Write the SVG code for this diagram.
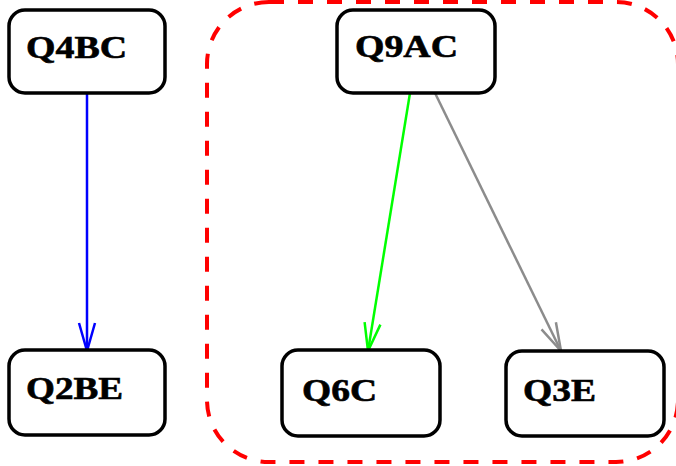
<svg xmlns="http://www.w3.org/2000/svg" width="676" height="466" viewBox="0 0 676 466">
  <style>
    .node rect { fill: #ffffff; stroke: #000000; stroke-width: 3.5; }
    .node text { font-family: "Liberation Serif", "Times New Roman", serif; font-weight: bold; font-size: 31px; fill: #000000; stroke: #000000; stroke-width: 0.6; }
    .edge { fill: none; stroke-width: 2.5; }
    .cluster { fill: none; stroke: #ff0000; stroke-width: 4; stroke-dasharray: 15 14; }
  </style>
  <defs>
    <marker id="arrBlue" markerUnits="userSpaceOnUse" markerWidth="40" markerHeight="30" refX="30" refY="10" orient="auto" viewBox="0 0 40 20">
      <path d="M2,2 L30,10 L2,18" fill="none" stroke="#0000ff" stroke-width="2.5"/>
    </marker>
    <marker id="arrGreen" markerUnits="userSpaceOnUse" markerWidth="40" markerHeight="30" refX="30" refY="10" orient="auto" viewBox="0 0 40 20">
      <path d="M2,2 L30,10 L2,18" fill="none" stroke="#00ff00" stroke-width="2.5"/>
    </marker>
    <marker id="arrGray" markerUnits="userSpaceOnUse" markerWidth="40" markerHeight="30" refX="30" refY="10" orient="auto" viewBox="0 0 40 20">
      <path d="M2,2 L30,10 L2,18" fill="none" stroke="#8c8c8c" stroke-width="2.5"/>
    </marker>
  </defs>
  <rect width="676" height="466" fill="#ffffff"/>
  <g id="cluster">
    <rect class="cluster" x="207" y="2" width="471" height="460" rx="62" ry="62"/>
  </g>
  <g id="connectors">
    <path class="edge" stroke="#0000ff" d="M87,93 L87,351" marker-end="url(#arrBlue)"/>
    <path class="edge" stroke="#00ff00" d="M410,93 L368,351" marker-end="url(#arrGreen)"/>
    <path class="edge" stroke="#8c8c8c" d="M435,93 L561,351" marker-end="url(#arrGray)"/>
  </g>
  <g id="Q4BC" class="node">
    <rect x="9" y="10" width="156" height="83" rx="16" ry="16"/>
    <text x="26" y="58" textLength="101" lengthAdjust="spacingAndGlyphs">Q4BC</text>
  </g>
  <g id="Q9AC" class="node">
    <rect x="337" y="10" width="158" height="83" rx="16" ry="16"/>
    <text x="355" y="57" textLength="103" lengthAdjust="spacingAndGlyphs">Q9AC</text>
  </g>
  <g id="Q2BE" class="node">
    <rect x="9" y="350" width="156" height="85" rx="16" ry="16"/>
    <text x="26" y="399" textLength="97" lengthAdjust="spacingAndGlyphs">Q2BE</text>
  </g>
  <g id="Q6C" class="node">
    <rect x="282" y="350" width="158" height="86" rx="16" ry="16"/>
    <text x="302" y="401" textLength="75" lengthAdjust="spacingAndGlyphs">Q6C</text>
  </g>
  <g id="Q3E" class="node">
    <rect x="506" y="351" width="158" height="85" rx="16" ry="16"/>
    <text x="523" y="401" textLength="73" lengthAdjust="spacingAndGlyphs">Q3E</text>
  </g>
</svg>
